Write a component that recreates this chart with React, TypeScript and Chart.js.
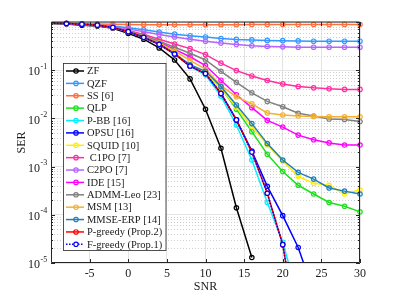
import React, { useEffect, useRef } from "react";
import { Chart, registerables } from "chart.js";

Chart.register(...registerables);

// ---------------- data ----------------
const snr = [-10, -8, -6, -4, -2, 0, 2, 4, 6, 8, 10, 12, 14, 16, 18, 20, 22, 24, 26, 28, 30];

const zf = [0.93, 0.91, 0.86, 0.83, 0.74, 0.58, 0.44, 0.29, 0.163, 0.066, 0.0155, 0.0024, 1.4e-4, 1.3e-5, null, null, null, null, null, null, null];
const qzf = [0.95, 0.93, 0.91, 0.88, 0.83, 0.76, 0.69, 0.62, 0.56, 0.52, 0.49, 0.455, 0.435, 0.425, 0.415, 0.41, 0.405, 0.4, 0.4, 0.4, 0.4];
const ss = [0.96, 0.94, 0.92, 0.91, 0.9, 0.89, 0.88, 0.88, 0.88, 0.88, 0.88, 0.88, 0.88, 0.885, 0.885, 0.89, 0.89, 0.89, 0.89, 0.89, 0.89];
const qlp = [0.95, 0.93, 0.9, 0.86, 0.77, 0.64, 0.49, 0.35, 0.22, 0.125, 0.085, 0.044, 0.0154, 0.0053, 0.0018, 7.9e-4, 4.1e-4, 2.7e-4, 1.8e-4, 1.5e-4, 1.15e-4];
const pbb = [0.95, 0.93, 0.9, 0.86, 0.77, 0.63, 0.48, 0.34, 0.215, 0.12, 0.08, 0.029, 0.0073, 0.00137, 1.8e-4, 2.7e-5, 1.9e-6, null, null, null, null];
const opsu = [0.95, 0.93, 0.9, 0.86, 0.77, 0.63, 0.48, 0.345, 0.217, 0.122, 0.085, 0.033, 0.0093, 0.0021, 3.9e-4, 9.6e-5, 2.1e-5, 2.5e-6, null, null, null];
const squid = [0.95, 0.93, 0.9, 0.86, 0.77, 0.64, 0.49, 0.35, 0.22, 0.125, 0.088, 0.042, 0.017, 0.0068, 0.0028, 0.0013, 6.3e-4, 4.5e-4, 4.1e-4, 2.7e-4, 3.3e-4];
const c1po = [0.95, 0.93, 0.9, 0.86, 0.78, 0.67, 0.55, 0.44, 0.35, 0.28, 0.21, 0.14, 0.098, 0.076, 0.061, 0.052, 0.046, 0.043, 0.041, 0.04, 0.04];
const c2po = [0.95, 0.93, 0.91, 0.87, 0.8, 0.72, 0.63, 0.55, 0.49, 0.44, 0.4, 0.365, 0.34, 0.32, 0.31, 0.305, 0.3, 0.3, 0.3, 0.3, 0.3];
const ide = [0.95, 0.93, 0.9, 0.86, 0.77, 0.65, 0.51, 0.38, 0.27, 0.19, 0.125, 0.062, 0.031, 0.0167, 0.0091, 0.0066, 0.0045, 0.0036, 0.0031, 0.0028, 0.0028];
const admm = [0.95, 0.93, 0.9, 0.86, 0.77, 0.65, 0.52, 0.4, 0.3, 0.225, 0.163, 0.095, 0.056, 0.034, 0.0225, 0.0175, 0.0128, 0.0112, 0.0097, 0.0095, 0.0086];
const msm = [0.95, 0.93, 0.9, 0.86, 0.77, 0.64, 0.5, 0.37, 0.25, 0.16, 0.105, 0.048, 0.028, 0.02, 0.013, 0.0118, 0.0112, 0.011, 0.0108, 0.0108, 0.0108];
const mmse = [0.95, 0.93, 0.9, 0.86, 0.77, 0.64, 0.49, 0.35, 0.22, 0.13, 0.095, 0.046, 0.019, 0.0078, 0.003, 0.00137, 7.6e-4, 5.5e-4, 3.6e-4, 3.1e-4, 2.7e-4];
const pgreedy = [0.95, 0.93, 0.9, 0.86, 0.77, 0.63, 0.48, 0.345, 0.217, 0.122, 0.085, 0.033, 0.0093, 0.002, 2.8e-4, 2.4e-5, 3e-7, null, null, null, null];
const fgreedy = [0.95, 0.93, 0.9, 0.86, 0.77, 0.63, 0.48, 0.345, 0.217, 0.122, 0.085, 0.033, 0.0093, 0.002, 2.8e-4, 2.4e-5, 3e-7, null, null, null, null];

const seriesNames = [
  "ZF", "QZF", "SS [6]", "QLP", "P-BB [16]", "OPSU [16]", "SQUID [10]", " C1PO [7]",
  "C2PO [7]", "IDE [15]", "ADMM-Leo [23]", "MSM [13]", "MMSE-ERP [14]", "P-greedy (Prop.2)", "F-greedy (Prop.1)",
];
const seriesValues = [zf, qzf, ss, qlp, pbb, opsu, squid, c1po, c2po, ide, admm, msm, mmse, pgreedy, fgreedy];

const xTickLabels = [-5, 0, 5, 10, 15, 20, 25, 30];
const yTickExponents = [-1, -2, -3, -4, -5];
const xTitle = "SNR";
const yTitle = "SER";

// ---------------- styles ----------------
const seriesColors = [
  "#000000", "#3399FF", "#FF6E3C", "#1EE01E", "#00F0FF", "#0000FF", "#FFEE00", "#FF2FA0",
  "#B266FF", "#FF00FF", "#808080", "#F2B134", "#2080B8", "#FF0000", "#0000FF",
];
const dottedSeries = [14];
const FONT = '"Liberation Serif", "Times New Roman", serif';
const AXIS = "#262626";

const decor = {
  id: "matlabDecor",
  beforeDatasetsDraw(chart: any) {
    const { ctx, chartArea: a, scales } = chart;
    const y = scales.y;
    ctx.save();
    ctx.strokeStyle = "#cfcfcf";
    ctx.lineWidth = 1;
    ctx.setLineDash([1, 2]);
    for (let e = -5; e < 0; e++) {
      for (let k = 2; k <= 9; k++) {
        const py = Math.round(y.getPixelForValue(k * Math.pow(10, e))) + 0.5;
        ctx.beginPath();
        ctx.moveTo(a.left, py);
        ctx.lineTo(a.right, py);
        ctx.stroke();
      }
    }
    ctx.restore();
  },
  afterDraw(chart: any) {
    const { ctx, chartArea: a, scales } = chart;
    const x = scales.x;
    const y = scales.y;
    ctx.save();
    // box
    ctx.strokeStyle = AXIS;
    ctx.lineWidth = 1;
    ctx.setLineDash([]);
    ctx.beginPath();
    ctx.moveTo(a.left + 0.5, a.top);
    ctx.lineTo(a.right - 0.5, a.top);
    ctx.lineTo(a.right - 0.5, a.bottom - 0.5);
    ctx.lineTo(a.left + 0.5, a.bottom - 0.5);
    ctx.closePath();
    ctx.stroke();
    // x ticks
    ctx.beginPath();
    for (const v of xTickLabels) {
      const px = Math.round(x.getPixelForValue(v)) + 0.5;
      ctx.moveTo(px, a.bottom);
      ctx.lineTo(px, a.bottom - 4);
      ctx.moveTo(px, a.top);
      ctx.lineTo(px, a.top + 4);
    }
    // y ticks
    for (let e = -5; e <= 0; e++) {
      for (let k = 1; k <= 9; k++) {
        if (e === 0 && k > 1) continue;
        const py = Math.round(y.getPixelForValue(k * Math.pow(10, e))) + 0.5;
        const len = k === 1 ? 4 : 2;
        ctx.moveTo(a.left, py);
        ctx.lineTo(a.left + len, py);
        ctx.moveTo(a.right, py);
        ctx.lineTo(a.right - len, py);
      }
    }
    ctx.stroke();
    // x labels
    ctx.fillStyle = "#1a1a1a";
    ctx.font = `12px ${FONT}`;
    ctx.textAlign = "center";
    ctx.textBaseline = "middle";
    for (const v of xTickLabels) {
      ctx.fillText(String(v), x.getPixelForValue(v), a.bottom + 11);
    }
    ctx.fillText(xTitle, (a.left + a.right) / 2, a.bottom + 24);
    // y labels
    for (const e of yTickExponents) {
      const py = y.getPixelForValue(Math.pow(10, e));
      ctx.font = `12px ${FONT}`;
      ctx.textAlign = "right";
      ctx.fillText("10", a.left - 11, py + 2);
      ctx.font = `8px ${FONT}`;
      ctx.textAlign = "left";
      ctx.fillText(String(e), a.left - 10.5, py - 3.5);
    }
    ctx.font = `12px ${FONT}`;
    ctx.textAlign = "center";
    ctx.translate(21.5, (a.top + a.bottom) / 2);
    ctx.rotate(-Math.PI / 2);
    ctx.fillText(yTitle, 0, 0);
    ctx.restore();

    // legend
    ctx.save();
    const lx = a.left + 12;
    const ly = a.top + 41;
    const lw = 102.5;
    const step = 12.38;
    const lh = 187;
    ctx.fillStyle = "#ffffff";
    ctx.fillRect(lx, ly, lw, lh);
    ctx.strokeStyle = AXIS;
    ctx.lineWidth = 0.8;
    ctx.strokeRect(lx + 0.5, ly + 0.5, lw, lh);
    ctx.font = `10.5px ${FONT}`;
    ctx.textAlign = "left";
    ctx.textBaseline = "middle";
    seriesNames.forEach((name, i) => {
      const cy = ly + 8 + i * step;
      const col = seriesColors[i];
      ctx.strokeStyle = col;
      ctx.lineWidth = 1.5;
      ctx.setLineDash(dottedSeries.includes(i) ? [1.5, 1.5] : []);
      ctx.beginPath();
      ctx.moveTo(lx + 3, cy);
      ctx.lineTo(lx + 21, cy);
      ctx.stroke();
      ctx.setLineDash([]);
      ctx.lineWidth = 1.2;
      ctx.beginPath();
      ctx.arc(lx + 13, cy, 2.2, 0, Math.PI * 2);
      if (dottedSeries.includes(i)) {
        ctx.fillStyle = "#ffffff";
        ctx.fill();
      }
      ctx.stroke();
      ctx.fillStyle = "#1a1a1a";
      ctx.fillText(name, lx + 24, cy + 0.5);
    });
    ctx.restore();
  },
};

export default function App() {
  const ref = useRef<HTMLCanvasElement | null>(null);

  useEffect(() => {
    if (!ref.current) return;
    const n = seriesNames.length;
    const datasets = seriesNames.map((name, i) => {
      const dotted = dottedSeries.includes(i);
      return {
        label: name,
        data: snr.map((s, j) => ({ x: s, y: seriesValues[i][j] })),
        borderColor: seriesColors[i],
        backgroundColor: seriesColors[i],
        borderWidth: 1.5,
        borderDash: dotted ? [1.5, 1.5] : [],
        pointRadius: (c: any) => (c.dataIndex === 0 ? 0 : 2.2),
        pointBorderWidth: 1.2,
        pointBorderColor: seriesColors[i],
        pointBackgroundColor: dotted ? "#ffffff" : "rgba(255,255,255,0)",
        pointStyle: "circle",
        tension: 0,
        spanGaps: false,
        order: n - 1 - i,
        clip: { left: 0, top: 5, right: 5, bottom: 0 },
      };
    });

    const chart = new Chart(ref.current, {
      type: "line",
      data: { datasets } as any,
      options: {
        responsive: false,
        animation: false,
        layout: { padding: { left: 51, top: 22, right: 39, bottom: 35 } },
        plugins: { legend: { display: false }, tooltip: { enabled: false } },
        scales: {
          x: {
            type: "linear",
            min: -10,
            max: 30,
            ticks: { stepSize: 5, display: false },
            grid: { color: "#e3e3e3", drawTicks: false, lineWidth: 1 },
            border: { display: false },
          },
          y: {
            type: "logarithmic",
            min: 1e-5,
            max: 1,
            ticks: { display: false },
            grid: {
              drawTicks: false,
              lineWidth: 1,
              color: (c: any) => {
                const v = c.tick ? c.tick.value : 0;
                const l = Math.log10(v);
                return Math.abs(l - Math.round(l)) < 1e-6 ? "#e3e3e3" : "rgba(0,0,0,0)";
              },
            },
            border: { display: false },
          },
        },
      } as any,
      plugins: [decor],
    });
    return () => chart.destroy();
  }, []);

  return (
    <div style={{ position: "fixed", left: 0, top: 0, width: 399, height: 298, background: "#fff" }}>
      <canvas ref={ref} width={399} height={298} style={{ display: "block" }} />
    </div>
  );
}
